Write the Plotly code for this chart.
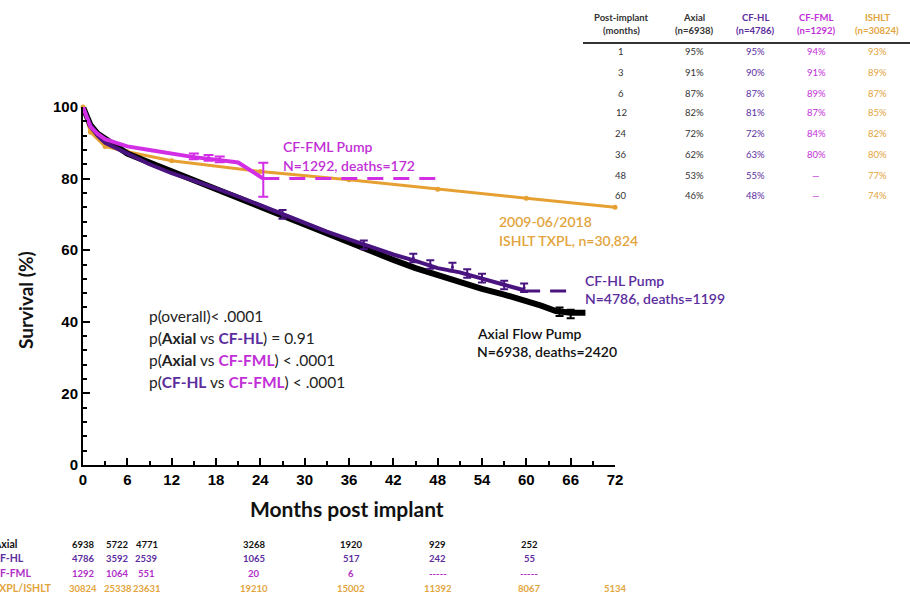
import plotly.graph_objects as go

# ---------------- data ----------------
axial_m = [0, 0.5, 1, 2, 3, 4.5, 6, 9, 12, 15, 18, 21, 24, 27, 30, 33, 36, 39, 42, 45, 48, 51, 54, 57, 60, 62, 64, 66, 68]
axial_s = [100, 97.5, 95, 92.5, 91, 89, 87, 84.5, 82, 79.5, 77, 74.5, 72, 69.5, 67, 64.5, 62, 59.5, 57.3, 55, 53, 51, 49.2, 47.6, 46, 44.5, 43, 42.5, 42.5]
axial_err_m = [64.5, 66]
axial_err_s = [42.8, 42.2]

cfhl_m = [0, 0.5, 1, 2, 3, 4.5, 6, 9, 12, 15, 18, 21, 24, 27, 30, 33, 36, 39, 42, 45, 48, 51, 54, 57, 59.7]
cfhl_s = [100, 97.5, 95, 92, 90, 88.5, 87, 84, 81.5, 79.5, 77.3, 75, 72.5, 70, 67.7, 65.2, 63, 60.8, 58.8, 57, 55, 53.8, 52, 50.3, 48.8]
cfhl_err_m = [27, 38, 44.7, 47, 50, 52, 54, 57, 59.7]
cfhl_err_s = [70, 61.5, 57.8, 56, 55.3, 53.5, 52.2, 50.3, 49.5]
cfhl_ext_m = [59.7, 66.3]
cfhl_ext_s = [48.6, 48.6]

cfml_m = [0, 0.5, 1, 2, 3, 4.5, 6, 9, 12, 15, 18, 21, 24.4]
cfml_s = [100, 97, 94.5, 92.5, 91, 90, 89, 88, 87, 86, 85.3, 84.5, 80]
cfml_err_m = [15, 17, 18.5, 24.4]
cfml_err_s = [86.2, 85.8, 85.4, 80]
cfml_err_up = [0.8, 0.8, 0.8, 4.4]
cfml_err_dn = [0.8, 0.8, 0.8, 5.1]
cfml_ext_m = [24.4, 48]
cfml_ext_s = [80, 80]

ishlt_m = [0, 1, 3, 6, 12, 24, 36, 48, 60, 72]
ishlt_s = [100, 93, 89, 87.5, 85, 82, 79.7, 77, 74.5, 72]

# survival table (top right)
tab_months = ["1", "3", "6", "12", "24", "36", "48", "60"]
tab_axial = ["95%", "91%", "87%", "82%", "72%", "62%", "53%", "46%"]
tab_cfhl = ["95%", "90%", "87%", "81%", "72%", "63%", "55%", "48%"]
tab_cfml = ["94%", "91%", "89%", "87%", "84%", "80%", "\u2014", "\u2014"]
tab_ishlt = ["93%", "89%", "87%", "85%", "82%", "80%", "77%", "74%"]
tab_headers = [("Post-implant", "(months)"), ("Axial", "(n=6938)"), ("CF-HL", "(n=4786)"),
               ("CF-FML", "(n=1292)"), ("ISHLT", "(n=30824)")]

# numbers at risk (bottom)
risk_labels = ["Axial", "CF-HL", "CF-FML", "TXPL/ISHLT"]
risk_axial = ["6938", "5722", "4771", "3268", "1920", "929", "252", ""]
risk_cfhl = ["4786", "3592", "2539", "1065", "517", "242", "55", ""]
risk_cfml = ["1292", "1064", "551", "20", "6", "-----", "-----", ""]
risk_ishlt = ["30824", "25338", "23631", "19210", "15002", "11392", "8067", "5134"]

x_ticks = list(range(0, 73, 6))
y_ticks = list(range(0, 101, 20))

# ---------------- style ----------------
BLACK = "#000000"
PURPLE = "#4a1480"
PURPLE_T = "#5b2d9e"
MAGENTA = "#d22ee6"
MAGENTA_T = "#c12fd6"
ORANGE = "#e6a032"
ORANGE_T = "#e2a43c"
TXT_FONT = "Lato, Open Sans, sans-serif"
AX_FONT = "Liberation Sans, Arial, sans-serif"

W, H = 910, 598
X0, X1 = 83, 615
Y0, Y1 = 465, 107


def px(x):
    return x / W


def py(y):
    return 1 - y / H


fig = go.Figure()

# ISHLT
fig.add_trace(go.Scatter(x=ishlt_m, y=ishlt_s, mode="lines+markers",
                         line=dict(color=ORANGE, width=3),
                         marker=dict(color=ORANGE, size=5), cliponaxis=False,
                         showlegend=False))
# Axial (thick black)
fig.add_trace(go.Scatter(x=axial_m, y=axial_s, mode="lines",
                         line=dict(color=BLACK, width=6), cliponaxis=False, showlegend=False))
fig.add_trace(go.Scatter(x=axial_err_m, y=axial_err_s, mode="markers",
                         marker=dict(color=BLACK, size=3),
                         error_y=dict(type="constant", value=1.2, color=BLACK, thickness=2, width=4),
                         showlegend=False))
# CF-HL
fig.add_trace(go.Scatter(x=cfhl_m, y=cfhl_s, mode="lines",
                         line=dict(color=PURPLE, width=4), cliponaxis=False, showlegend=False))
fig.add_trace(go.Scatter(x=cfhl_err_m, y=cfhl_err_s, mode="markers",
                         marker=dict(color=PURPLE, size=3),
                         error_y=dict(type="constant", value=1.2, color=PURPLE, thickness=2, width=4),
                         showlegend=False))
fig.add_trace(go.Scatter(x=cfhl_ext_m, y=cfhl_ext_s, mode="lines",
                         line=dict(color=PURPLE, width=3, dash="16px,10px"), showlegend=False))
# CF-FML
fig.add_trace(go.Scatter(x=cfml_m, y=cfml_s, mode="lines",
                         line=dict(color=MAGENTA, width=4), cliponaxis=False, showlegend=False))
fig.add_trace(go.Scatter(x=cfml_err_m, y=cfml_err_s, mode="markers",
                         marker=dict(color=MAGENTA, size=3),
                         error_y=dict(type="data", symmetric=False, array=cfml_err_up,
                                      arrayminus=cfml_err_dn, color=MAGENTA, thickness=2, width=5),
                         showlegend=False))
fig.add_trace(go.Scatter(x=cfml_ext_m, y=cfml_ext_s, mode="lines",
                         line=dict(color=MAGENTA, width=3, dash="16px,10px"), showlegend=False))

ann = []

# curve labels
def lab(x, y, lines, color, size=14):
    for i, t in enumerate(lines):
        ann.append(dict(x=px(x), y=py(y + i * 18.5), xref="paper", yref="paper", text=t,
                        showarrow=False, xanchor="left", yanchor="middle",
                        font=dict(family=TXT_FONT, size=size, color=color, weight=600)))

lab(281, 147, ["CF-FML Pump", "N=1292, deaths=172"], MAGENTA_T)
lab(497, 222, ["2009-06/2018", "ISHLT TXPL, n=30,824"], ORANGE_T)
lab(583, 280, ["CF-HL Pump", "N=4786, deaths=1199"], PURPLE_T)
lab(475, 333, ["Axial Flow Pump", "N=6938, deaths=2420"], "#111111")

# p-values
pv = [
    "p(overall)< .0001",
    "p(<b>Axial</b> vs <span style='color:%s'><b>CF-HL</b></span>) = 0.91" % PURPLE_T,
    "p(<b>Axial</b> vs <span style='color:%s'><b>CF-FML</b></span>) < .0001" % MAGENTA_T,
    "p(<span style='color:%s'><b>CF-HL</b></span> vs <span style='color:%s'><b>CF-FML</b></span>) < .0001" % (PURPLE_T, MAGENTA_T),
]
for i, t in enumerate(pv):
    ann.append(dict(x=px(147), y=py(316 + i * 22), xref="paper", yref="paper", text=t,
                    showarrow=False, xanchor="left", yanchor="middle",
                    font=dict(family=TXT_FONT, size=15.5, color="#222222")))

# axis titles
ann.append(dict(x=px((X0 + X1) / 2 - 2), y=py(508), xref="paper", yref="paper",
                text="<b>Months post implant</b>", showarrow=False, yanchor="middle",
                font=dict(family=TXT_FONT, size=21, color="#111111")))
ann.append(dict(x=px(25), y=py(300), xref="paper", yref="paper", textangle=-90,
                text="<b>Survival (%)</b>", showarrow=False, xanchor="center", yanchor="middle",
                font=dict(family=TXT_FONT, size=19, color="#111111")))

# survival table
col_x = [621, 694, 755, 816, 877]
col_colors = ["#333333", "#333333", PURPLE_T, MAGENTA_T, ORANGE_T]
for cx, (h1, h2), c in zip(col_x, tab_headers, col_colors):
    for yy, t in ((18, h1), (31, h2)):
        ann.append(dict(x=px(cx), y=py(yy), xref="paper", yref="paper", text="<b>%s</b>" % t,
                        showarrow=False, xanchor="center", yanchor="middle",
                        font=dict(family=TXT_FONT, size=9.5, color=c)))
row_y = [52, 72, 93, 113, 134, 154, 175, 195]
for col, cx, c in zip([tab_months, tab_axial, tab_cfhl, tab_cfml, tab_ishlt], col_x, col_colors):
    for ry, t in zip(row_y, col):
        ann.append(dict(x=px(cx), y=py(ry), xref="paper", yref="paper", text=t,
                        showarrow=False, xanchor="center", yanchor="middle",
                        font=dict(family=TXT_FONT, size=9.5, color=c)))

# numbers at risk
risk_x = [0, 4.7, 8.6, 23.2, 36.3, 48, 60.4, 72]
risk_rows = [risk_axial, risk_cfhl, risk_cfml, risk_ishlt]
risk_colors = ["#111111", PURPLE_T, "#b02fc8", ORANGE_T]
risk_y = [544, 558, 573, 588]
for lbl, row, c, ry in zip(risk_labels, risk_rows, risk_colors, risk_y):
    ann.append(dict(x=px(-9), y=py(ry), xref="paper", yref="paper", text="<b>%s</b>" % lbl,
                    showarrow=False, xanchor="left", yanchor="middle",
                    font=dict(family=TXT_FONT, size=10.5, color=c)))
    for xm, t in zip(risk_x, row):
        if t:
            ann.append(dict(x=xm, y=py(ry), xref="x", yref="paper", text="<b>%s</b>" % t,
                            showarrow=False, xanchor="center", yanchor="middle",
                            font=dict(family=TXT_FONT, size=9.5, color=c)))

shapes = [dict(type="line", xref="paper", yref="paper", x0=px(583), x1=px(910),
               y0=py(43), y1=py(43), line=dict(color="#333333", width=2))]

fig.update_layout(
    width=W, height=H, margin=dict(l=0, r=0, t=0, b=0, autoexpand=False),
    paper_bgcolor="white", plot_bgcolor="white",
    annotations=ann, shapes=shapes, showlegend=False,
    xaxis=dict(domain=[px(X0), px(X1)], range=[0, 72], tickvals=x_ticks, automargin=False,
               ticks="inside", ticklen=7, tickwidth=2, tickcolor="black",
               minor=dict(dtick=3, tick0=0, ticks="inside", ticklen=4, tickwidth=2, tickcolor="black"),
               showline=True, linecolor="black", linewidth=2, showgrid=False, zeroline=False,
               tickfont=dict(family=AX_FONT, size=15, color="black", weight="bold")),
    yaxis=dict(domain=[py(Y0), py(Y1)], range=[0, 100], tickvals=y_ticks, automargin=False,
               ticks="inside", ticklen=7, tickwidth=2, tickcolor="black",
               minor=dict(dtick=4, tick0=0, ticks="inside", ticklen=4, tickwidth=2, tickcolor="black"),
               showline=True, linecolor="black", linewidth=2, showgrid=False, zeroline=False,
               tickfont=dict(family=AX_FONT, size=15, color="black", weight="bold")),
)

fig.write_html("out.html", config={"displayModeBar": False},
               post_script="document.body.style.margin='0px';document.body.style.overflow='hidden';")
